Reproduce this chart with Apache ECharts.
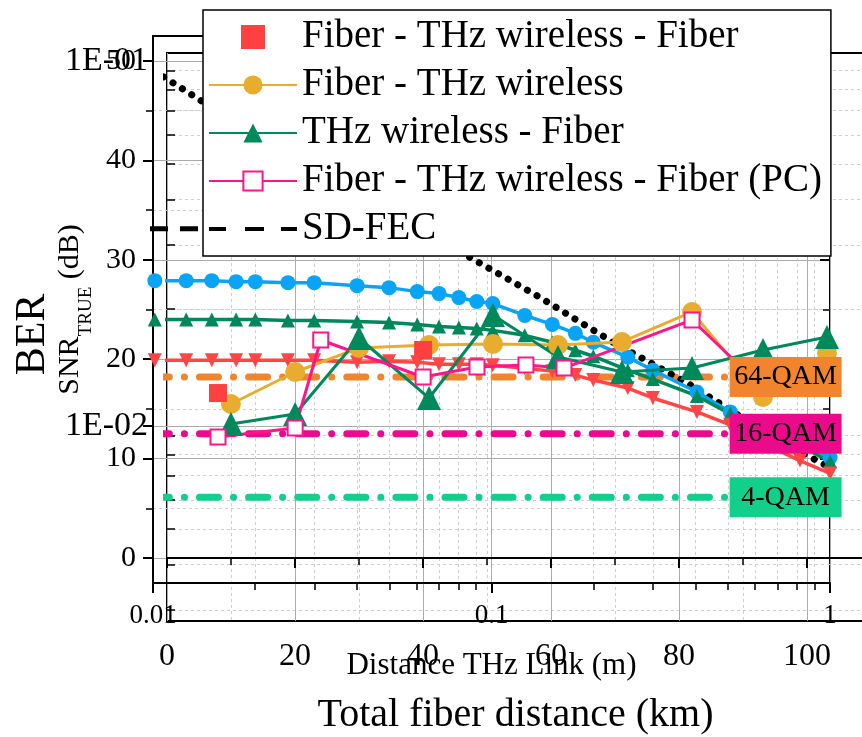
<!DOCTYPE html>
<html>
<head>
<meta charset="utf-8">
<script src="https://cdn.jsdelivr.net/npm/echarts@6/dist/echarts.min.js"></script>
<style>
  html, body { margin: 0; padding: 0; background: #fff; }
  #main { width: 862px; height: 737px; }
</style>
</head>
<body>
<div id="main"></div>
<script>
// ---- SNR vs total fiber distance (km) ----
const kmDist = [-1.9, 3.0, 7.0, 10.8, 13.8, 18.9, 23.0, 29.7, 34.7, 39.1, 42.5, 45.6, 48.4, 50.9, 55.9, 60.2, 63.8, 66.6, 72.0, 75.9, 82.8, 88.0, 94.2, 98.9, 103.6];
const snrBlue = [27.9, 27.9, 27.9, 27.8, 27.8, 27.7, 27.7, 27.4, 27.2, 26.8, 26.6, 26.2, 25.8, 25.6, 24.4, 23.5, 22.6, 21.7, 20.2, 18.9, 16.7, 14.7, 13.1, 11.7, 10.1];
const snrGreen = [24.0, 24.0, 24.0, 24.0, 24.0, 23.9, 23.9, 23.8, 23.7, 23.5, 23.3, 23.2, 23.1, 22.9, 22.4, 21.7, 20.9, 20.3, 18.9, 18.0, 16.3, 14.5, 12.8, 11.3, 9.7];
const snrRed = [19.9, 19.9, 19.9, 19.9, 19.9, 19.9, 19.9, 19.7, 19.8, 19.7, 19.5, 19.5, 19.5, 19.4, 19.1, 18.8, 18.4, 17.9, 17.1, 16.1, 14.7, 13.4, 11.2, 9.8, 8.5];
const dotKm = [-2.0, 5.6, 46.9, 58.3, 69.7, 81.3, 89.2, 98.9, 103.6];
const dotSnr = [49.0, 45.9, 30.4, 26.2, 21.7, 17.6, 14.4, 10.7, 9.1];

// modulation thresholds
const qamNames = ['64-QAM', '16-QAM', '4-QAM'];
const qamSnr = [18.2, 12.5, 6.1];
const qamSpan = [-2.6, 87.2];

// ---- BER vs THz link distance (m) ----
const thzX = [0.01699, 0.0263, 0.0406, 0.0654, 0.1010, 0.1572, 0.2429, 0.3912, 0.6339, 0.9797];
const berOrange = [0.01149, 0.01406, 0.01636, 0.01667, 0.01678, 0.01667, 0.01699, 0.02053, 0.01201, 0.01585];
const berGreen = [0.01013, 0.01078, 0.01742, 0.01193, 0.02014, 0.01545, 0.01406, 0.01441, 0.01615, 0.01753];
const thzRedX = [0.01556, 0.0628];
const berRed = [0.01231, 0.01615];
const thzPinkX = [0.01556, 0.0263, 0.0313, 0.0628, 0.0906, 0.1264, 0.1637, 0.3912, 0.6085, 0.855];
const berPink = [0.00933, 0.00988, 0.01720, 0.01362, 0.01450, 0.01469, 0.01441, 0.01952, 0.01320, 0.01441];
const fecX = [0.0098, 1.25];
const berFec = 0.0347;

const thzTicks = [0.01, 0.1, 1];
const thzTickLabels = ['0.01', '0.1', '1'];
const thzMinor = [0.02, 0.03, 0.04, 0.05, 0.06, 0.07, 0.08, 0.09, 0.2, 0.3, 0.4, 0.5, 0.6, 0.7, 0.8, 0.9];
const berTicks = [0.01, 0.1];
const berTickLabels = ['1E-02', '1E-01'];
const berMinor = [0.003, 0.004, 0.005, 0.006, 0.007, 0.008, 0.009, 0.02, 0.03, 0.04, 0.05, 0.06, 0.07, 0.08, 0.09];

const serif = '"Liberation Serif", "Times New Roman", serif';
const qamColors = ['#F0852D', '#EC0A8C', '#12D08C'];
const gridSolid = { show: true, lineStyle: { color: '#ababab', width: 1 } };
const gridDash = { show: true, lineStyle: { color: '#cfcfcf', width: 1, type: [3, 3] } };
const blackLine = { show: true, lineStyle: { color: '#000', width: 2 } };

function snrLine(name, ys, color, symbol, rotate, size) {
  return {
    name: name, type: 'line', xAxisIndex: 2, yAxisIndex: 1, clip: false,
    data: kmDist.map((x, i) => [x, ys[i]]),
    symbol: symbol, symbolSize: size, symbolRotate: rotate || 0,
    itemStyle: { color: color }, lineStyle: { color: color, width: 3.5 }, z: 2
  };
}

let option = {
  animation: false,
  backgroundColor: '#fff',
  grid: [
    // BER frame
    { left: 153, top: 36, width: 677, height: 547, outerBoundsMode: 'none', show: true, borderColor: '#000', borderWidth: 2, backgroundColor: 'transparent' },
    // SNR frame (data)
    { left: 167, top: 53, width: 697, height: 568, outerBoundsMode: 'none', show: true, borderColor: '#000', borderWidth: 2, backgroundColor: 'transparent' },
    // SNR labelled axis
    { left: 153, top: 61, width: 677, height: 497, outerBoundsMode: 'none', show: false }
  ],
  legend: {
    left: 203, top: 10,
    orient: 'vertical',
    data: [
      { name: 'Fiber - THz wireless - Fiber', icon: 'path://M0,0h10v10h-10z' },
      'Fiber - THz wireless',
      'THz wireless - Fiber',
      'Fiber - THz wireless - Fiber (PC)',
      { name: 'SD-FEC', icon: 'path://M0,0h17v4h-17z M36,0h19v4h-19z M72,0h16v4h-16z' }
    ],
    backgroundColor: '#fff', borderColor: '#000', borderWidth: 1.5,
    padding: [7, 9, 7, 5],
    itemWidth: 88, itemHeight: 24, itemGap: 8,
    selectedMode: false,
    textStyle: { fontFamily: serif, fontSize: 39, color: '#000', lineHeight: 40 }
  },
  xAxis: [
    {
      gridIndex: 0, type: 'log', logBase: 10, min: 0.01, max: 1, position: 'bottom',
      name: 'Distance THz Link (m)', nameLocation: 'middle', nameGap: 67,
      nameTextStyle: { fontFamily: serif, fontSize: 31, color: '#000' },
      axisLine: blackLine,
      axisTick: { show: true, length: 10, customValues: thzTicks, lineStyle: { color: '#000', width: 2 } },
      axisLabel: {
        customValues: thzTicks, margin: 19, fontFamily: serif, fontSize: 27, color: '#000',
        formatter: v => thzTickLabels[thzTicks.findIndex(t => Math.abs(t - v) < t * 1e-6)] || ''
      },
      splitLine: gridSolid
    },
    {
      gridIndex: 0, type: 'log', logBase: 10, min: 0.01, max: 1, position: 'bottom',
      axisLine: { show: false },
      axisTick: { show: true, length: 7, customValues: thzMinor, lineStyle: { color: '#000', width: 1.5 } },
      axisLabel: { show: false },
      splitLine: gridDash
    },
    {
      gridIndex: 1, type: 'value', min: 0, max: 108.9, interval: 20, position: 'bottom',
      name: 'Total fiber distance (km)', nameLocation: 'middle', nameGap: 74,
      nameTextStyle: { fontFamily: serif, fontSize: 40, color: '#000' },
      axisLine: blackLine,
      axisTick: { show: true, length: 10, lineStyle: { color: '#000', width: 2 } },
      minorTick: { show: true, splitNumber: 2, length: 7, lineStyle: { color: '#000', width: 1.5 } },
      axisLabel: { margin: 20, fontFamily: serif, fontSize: 32, color: '#000', showMaxLabel: false },
      splitLine: gridSolid,
      minorSplitLine: gridDash
    },
    { gridIndex: 2, type: 'value', min: 0, max: 1, show: false }
  ],
  yAxis: [
    {
      gridIndex: 0, type: 'log', logBase: 10, min: 0.003714, max: 0.11707, position: 'left',
      name: 'BER', nameLocation: 'middle', nameRotate: 90, nameGap: 99,
      nameTextStyle: { fontFamily: serif, fontSize: 42, color: '#000', padding: [0, 50, 0, 0] },
      axisLine: blackLine,
      axisTick: { show: true, length: 10, customValues: berTicks, lineStyle: { color: '#000', width: 2 } },
      axisLabel: {
        customValues: berTicks, margin: 5, fontFamily: serif, fontSize: 34, color: '#000',
        formatter: v => berTickLabels[berTicks.findIndex(t => Math.abs(t - v) < t * 1e-6)] || ''
      },
      splitLine: gridSolid
    },
    { gridIndex: 1, type: 'value', min: -6.338, max: 50.805, show: false },
    {
      gridIndex: 1, type: 'log', logBase: 10, min: 0.002797, max: 0.10063, position: 'left',
      axisLine: { show: false },
      axisTick: { show: true, inside: true, length: 8, customValues: berMinor, lineStyle: { color: '#000', width: 1.5 } },
      axisLabel: { show: false },
      splitLine: gridDash
    },
    {
      gridIndex: 2, type: 'value', min: 0, max: 50, interval: 10, position: 'left',
      name: '{m|SNR}{s|TRUE}{m| (dB)}', nameLocation: 'middle', nameRotate: 90, nameGap: 52,
      nameTextStyle: {
        color: '#000',
        rich: {
          m: { fontFamily: serif, fontSize: 30, lineHeight: 50, color: '#000' },
          s: { fontFamily: serif, fontSize: 19, lineHeight: 20, verticalAlign: 'bottom', color: '#000' }
        }
      },
      axisLine: blackLine,
      axisTick: { show: true, length: 10, lineStyle: { color: '#000', width: 2 } },
      minorTick: { show: true, splitNumber: 2, length: 7, lineStyle: { color: '#000', width: 1.5 } },
      axisLabel: { margin: 17, fontFamily: serif, fontSize: 30, color: '#000' },
      splitLine: gridSolid,
      minorSplitLine: gridDash
    },
    {
      gridIndex: 2, type: 'value', min: 0, max: 50, interval: 10, position: 'right',
      axisLine: { show: false },
      axisTick: { show: true, inside: true, length: 10, lineStyle: { color: '#000', width: 2 } },
      minorTick: { show: true, splitNumber: 2, length: 7, lineStyle: { color: '#000', width: 1.5 } },
      axisLabel: { show: false },
      splitLine: { show: false }
    }
  ],
  series: [
    // threshold lines
    ...qamNames.map((n, i) => ({
      name: n, type: 'line', xAxisIndex: 2, yAxisIndex: 1, clip: false, symbol: 'none',
      data: qamSpan.map(x => [x, qamSnr[i]]),
      lineStyle: { color: qamColors[i], width: 7, type: [19, 15, 0.1, 15], cap: 'round' },
      z: 1
    })),
    {
      name: 'snr-dotted', type: 'line', xAxisIndex: 2, yAxisIndex: 1, clip: false, symbol: 'none',
      data: dotKm.map((x, i) => [x, dotSnr[i]]),
      lineStyle: { color: '#000', width: 7, type: [0.1, 11], cap: 'round' },
      z: 2
    },
    snrLine('snr-blue', snrBlue, '#0AA4F6', 'circle', 0, 15),
    snrLine('snr-green', snrGreen, '#00885A', 'triangle', 0, 14),
    snrLine('snr-red', snrRed, '#FF4545', 'triangle', 180, 14),
    // BER curves
    {
      name: 'Fiber - THz wireless', type: 'line', xAxisIndex: 0, yAxisIndex: 0,
      data: thzX.map((x, i) => [x, berOrange[i]]),
      symbol: 'circle', symbolSize: 20,
      itemStyle: { color: '#E8AD2E' }, lineStyle: { color: '#E8AD2E', width: 3 }, z: 3
    },
    {
      name: 'THz wireless - Fiber', type: 'line', xAxisIndex: 0, yAxisIndex: 0,
      data: thzX.map((x, i) => [x, berGreen[i]]),
      symbol: 'triangle', symbolSize: 24,
      itemStyle: { color: '#00895A' }, lineStyle: { color: '#00895A', width: 3 }, z: 3
    },
    {
      name: 'Fiber - THz wireless - Fiber (PC)', type: 'line', xAxisIndex: 0, yAxisIndex: 0,
      data: thzPinkX.map((x, i) => [x, berPink[i]]),
      symbol: 'emptyRect', symbolSize: 15,
      itemStyle: { color: '#FF148C', borderWidth: 2 }, lineStyle: { color: '#FF148C', width: 3 }, z: 3
    },
    {
      name: 'Fiber - THz wireless - Fiber', type: 'scatter', xAxisIndex: 0, yAxisIndex: 0,
      data: thzRedX.map((x, i) => [x, berRed[i]]),
      symbol: 'rect', symbolSize: 18,
      itemStyle: { color: '#FF4040', opacity: 1 }, z: 3
    },
    {
      name: 'SD-FEC', type: 'line', xAxisIndex: 0, yAxisIndex: 0, clip: false, symbol: 'none',
      data: fecX.map(x => [x, berFec]),
      itemStyle: { color: '#000' },
      lineStyle: { color: '#000', width: 5, type: [18, 12] }, z: 2
    },
    // threshold labels
    {
      name: 'qam-labels', type: 'scatter', xAxisIndex: 2, yAxisIndex: 1, clip: false,
      symbolSize: 1, itemStyle: { color: 'rgba(0,0,0,0)', opacity: 1 },
      data: qamNames.map((n, i) => ({
        name: n, value: [qamSpan[1], qamSnr[i]],
        label: { backgroundColor: qamColors[i] }
      })),
      label: {
        show: true, position: 'right', distance: 4,
        formatter: '{a|{b}}', padding: [6, 4, 6, 4],
        rich: { a: { width: 104, align: 'center', fontFamily: serif, fontSize: 28, color: '#000' } }
      },
      labelLayout: { hideOverlap: false },
      z: 5
    }
  ]
};

let chartDom = document.getElementById('main');
let myChart = echarts.init(chartDom, null, { renderer: 'canvas' });
myChart.setOption(option);
</script>
</body>
</html>
